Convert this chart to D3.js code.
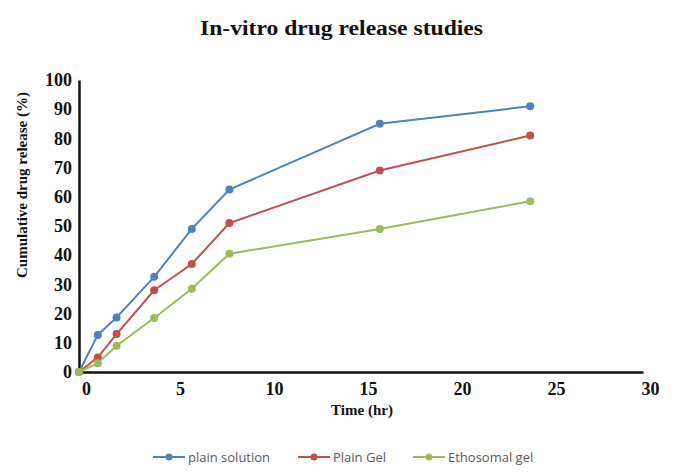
<!DOCTYPE html>
<html>
<head>
<meta charset="utf-8">
<script src="https://cdn.jsdelivr.net/npm/d3@7"></script>
<style>
  html, body { margin: 0; padding: 0; background: #fff; }
  svg { display: block; }
</style>
</head>
<body>
<svg id="chart" width="675" height="475"></svg>
<script>
const times = [0, 1, 2, 4, 6, 8, 16, 24];
const seriesNames = ["plain solution", "Plain Gel", "Ethosomal gel"];
const plainSolution = [0, 12.7, 18.7, 32.6, 49, 62.5, 85, 91];
const plainGel = [0, 5, 13, 28, 37, 51, 69, 81];
const ethosomalGel = [0, 3, 9, 18.5, 28.5, 40.5, 49, 58.5];
const xTicks = [0, 5, 10, 15, 20, 25, 30];
const yTicks = [0, 10, 20, 30, 40, 50, 60, 70, 80, 90, 100];
const colors = ["#4F81BD", "#C0504D", "#9BBB59"];

const series = [plainSolution, plainGel, ethosomalGel];
const svg = d3.select("#chart");
const serif = "'Liberation Serif', 'Times New Roman', serif";
const sans = "'Open Sans', 'Liberation Sans', sans-serif";

const x = d3.scaleLinear().domain([0, 30]).range([79, 643]);
const y = d3.scaleLinear().domain([0, 100]).range([372, 80]);

// title
svg.append("text")
  .attr("x", 341.5).attr("y", 35)
  .attr("text-anchor", "middle")
  .attr("textLength", 283).attr("lengthAdjust", "spacingAndGlyphs")
  .style("font-family", serif).style("font-weight", "bold").style("font-size", "20px")
  .attr("fill", "#111")
  .text("In-vitro drug release studies");

// axes
const xAxis = svg.append("g").attr("transform", `translate(0,${y(0)})`)
  .call(d3.axisBottom(x).tickValues(xTicks).tickSize(0).tickPadding(10));
xAxis.select(".domain").attr("stroke", "#111").attr("stroke-width", 2.5);
xAxis.selectAll("text")
  .attr("dx", 7)
  .style("font-family", serif).style("font-weight", "bold").style("font-size", "18px")
  .attr("fill", "#111");

const yAxis = svg.append("g").attr("transform", `translate(${x(0)},0)`)
  .call(d3.axisLeft(y).tickValues(yTicks).tickSize(0).tickPadding(7));
yAxis.select(".domain").attr("stroke", "#111").attr("stroke-width", 2.5);
yAxis.selectAll("text")
  .style("font-family", serif).style("font-weight", "bold").style("font-size", "18px")
  .attr("fill", "#111");

// axis titles
svg.append("text")
  .attr("x", 362).attr("y", 415)
  .attr("text-anchor", "middle")
  .style("font-family", serif).style("font-weight", "bold").style("font-size", "15px")
  .attr("fill", "#111")
  .text("Time (hr)");

svg.append("text")
  .attr("transform", "translate(27,185) rotate(-90)")
  .attr("text-anchor", "middle")
  .style("font-family", serif).style("font-weight", "bold").style("font-size", "15px")
  .attr("fill", "#111")
  .text("Cumulative  drug release (%)");

// lines & markers
const line = d3.line().x((d, i) => x(times[i])).y(d => y(d));
series.forEach((s, k) => {
  svg.append("path").datum(s)
    .attr("fill", "none").attr("stroke", colors[k]).attr("stroke-width", 2)
    .attr("d", line);
  svg.selectAll(null).data(s).enter().append("circle")
    .attr("cx", (d, i) => x(times[i])).attr("cy", d => y(d))
    .attr("r", 4).attr("fill", colors[k]);
});

// legend
const legendX = [153, 298, 413];
const legend = svg.append("g");
seriesNames.forEach((name, k) => {
  const g = legend.append("g").attr("transform", `translate(${legendX[k]},457)`);
  g.append("line").attr("x1", 0).attr("x2", 32).attr("y1", 0).attr("y2", 0)
    .attr("stroke", colors[k]).attr("stroke-width", 2);
  g.append("circle").attr("cx", 16).attr("cy", 0).attr("r", 3.5).attr("fill", colors[k]);
  g.append("text").attr("x", 35).attr("y", 4.5)
    .style("font-family", sans).style("font-size", "13px")
    .attr("fill", "#595959")
    .text(name);
});
</script>
</body>
</html>
